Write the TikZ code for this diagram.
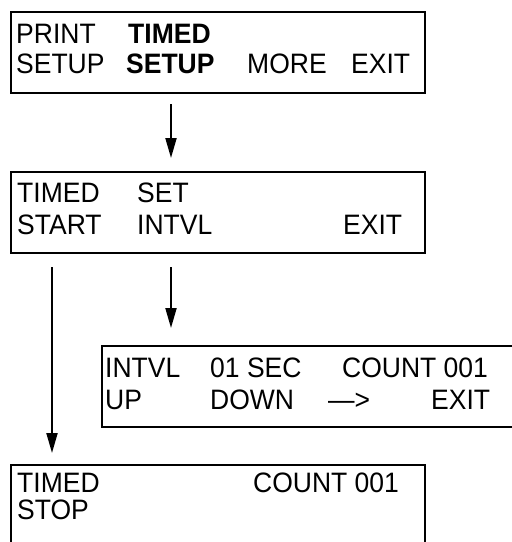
\documentclass[tikz,border=0pt]{standalone}
\usepackage{fontspec}
\usepackage{graphicx}
\setmainfont{Liberation Sans}
\usetikzlibrary{arrows.meta}
% display lettering is a touch taller than regular Arial
\newcommand\lcd[1]{\scalebox{1}[1.06]{#1}}
\tikzset{
  screen/.style={draw, line width=2pt},
  lbl/.style={anchor=base west, inner sep=0pt, font=\fontsize{26.5}{32}\selectfont},
  blbl/.style={lbl, font=\fontsize{26.5}{32}\selectfont\bfseries},
  flow/.style={line width=2pt, -{Triangle[length=20pt,width=11pt]}},
}
\begin{document}
\begin{tikzpicture}[x=1pt,y=-1pt]
\useasboundingbox (0,0) rectangle (512,542);
\clip (0,0) rectangle (512,542);

% main menu
\draw[screen] (11,12) rectangle (425,93);
\node[lbl]  (m1) at (16,43) {\lcd{PRINT}};
\node[blbl] (m2) at (128,43) {\lcd{TIMED}};
\node[lbl]  (m3) at (16,73) {\lcd{SETUP}};
\node[blbl] (m4) at (126,73) {\lcd{SETUP}};
\node[lbl]  (m5) at (247,73) {\lcd{MORE}};
\node[lbl]  (m6) at (351,73) {\lcd{EXIT}};

% timed setup menu
\draw[screen] (11,172) rectangle (425,253);
\node[lbl] (t1) at (17,202) {\lcd{TIMED}};
\node[lbl] (t2) at (137,202) {\lcd{SET}};
\node[lbl] (t3) at (17,234) {\lcd{START}};
\node[lbl] (t4) at (137,234) {\lcd{INTVL}};
\node[lbl] (t5) at (343,234) {\lcd{EXIT}};

% interval screen
\draw[screen] (102,346) rectangle (530,427);
\node[lbl] (i1) at (105,377) {\lcd{INTVL}};
\node[lbl] (i2) at (210,377) {\lcd{01 SEC}};
\node[lbl] (i3) at (342,377) {\lcd{COUNT 001}};
\node[lbl] (i4) at (105,409) {\lcd{UP}};
\node[lbl] (i5) at (210,409) {\lcd{DOWN}};
\node[lbl] (i6) at (328,409) {\lcd{\textemdash>}};
\node[lbl] (i7) at (431,409) {\lcd{EXIT}};

% running screen
\draw[screen] (11,465) rectangle (425,560);
\node[lbl] (s1) at (17,492) {\lcd{TIMED}};
\node[lbl] (s2) at (253,492) {\lcd{COUNT 001}};
\node[lbl] (s3) at (17,519) {\lcd{STOP}};

% transitions
\coordinate (a1) at (171,104);
\coordinate (a1e) at (171,158);
\coordinate (a2) at (171,267);
\coordinate (a2e) at (171,328);
\coordinate (a3) at (52,267);
\coordinate (a3e) at (52,453);
\draw[flow] (a1) -- (a1e);
\draw[flow] (a2) -- (a2e);
\draw[flow] (a3) -- (a3e);
\end{tikzpicture}
\end{document}
